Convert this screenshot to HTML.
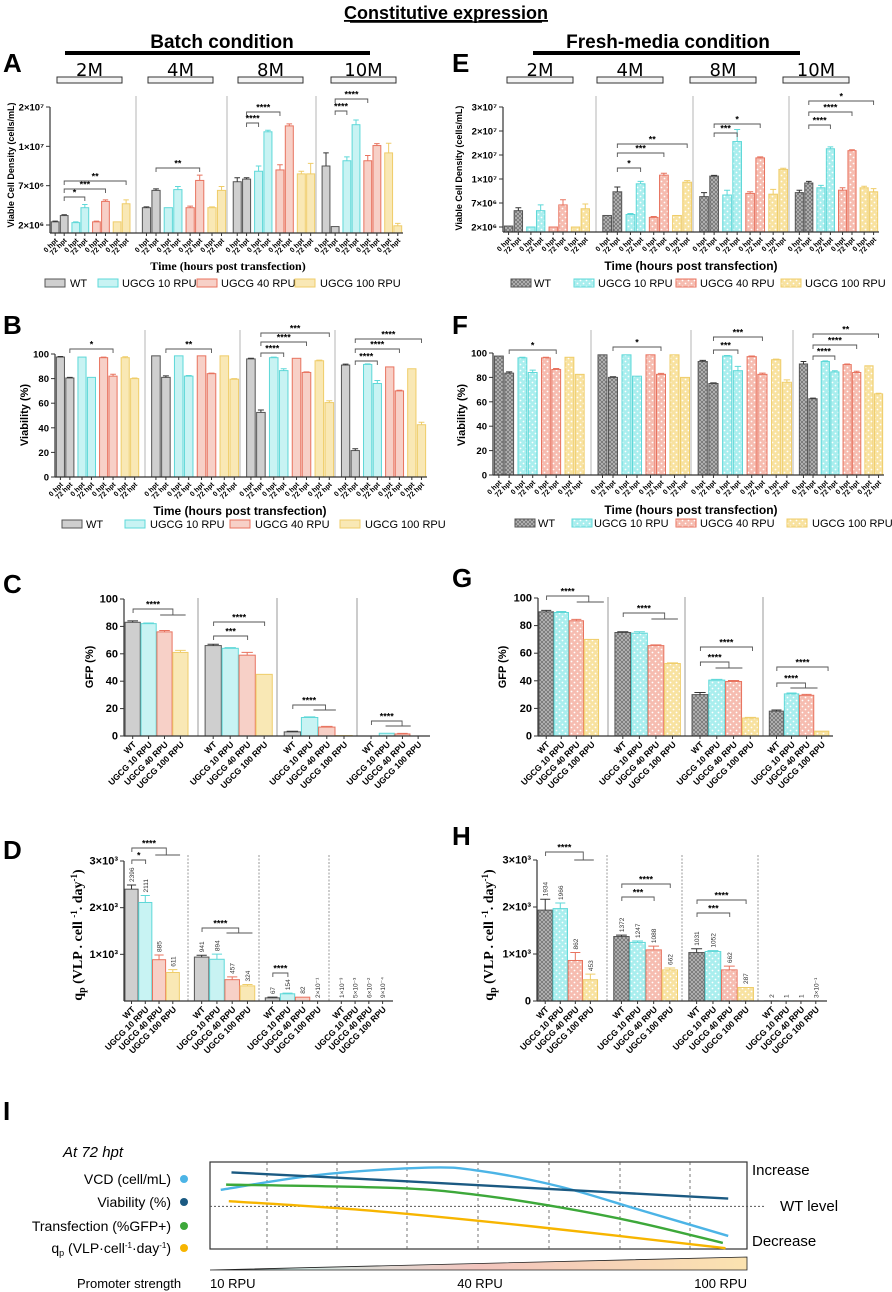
<!DOCTYPE html>
<html><head><meta charset="utf-8">
<style>
html,body{margin:0;padding:0;background:#fff}
svg{display:block;font-family:"Liberation Sans",sans-serif}
</style></head>
<body>
<svg id="fig" width="892" height="1292" viewBox="0 0 892 1292">
<defs>
<pattern id="p0" width="4" height="4" patternUnits="userSpaceOnUse"><rect width="4" height="4" fill="#b8b8b8"/><path d="M0,0L4,4M4,0L0,4" stroke="#6a6a6a" stroke-width="0.7"/></pattern>
<pattern id="p1" width="6" height="6" patternUnits="userSpaceOnUse"><rect width="6" height="6" fill="#a9eeee"/><circle cx="1.5" cy="1.5" r="0.9" fill="#fff"/><circle cx="4.5" cy="4.5" r="0.9" fill="#fff"/></pattern>
<pattern id="p2" width="6" height="6" patternUnits="userSpaceOnUse"><rect width="6" height="6" fill="#f6bcb0"/><circle cx="1.5" cy="1.5" r="0.9" fill="#fff"/><circle cx="4.5" cy="4.5" r="0.9" fill="#fff"/></pattern>
<pattern id="p3" width="6" height="6" patternUnits="userSpaceOnUse"><rect width="6" height="6" fill="#f8e2a0"/><circle cx="1.5" cy="1.5" r="0.9" fill="#fff"/><circle cx="4.5" cy="4.5" r="0.9" fill="#fff"/></pattern>
<linearGradient id="promGrad" x1="0" y1="0" x2="1" y2="0"><stop offset="0" stop-color="#000"/><stop offset="0.15" stop-color="#cfe9e4"/><stop offset="0.5" stop-color="#f2c4bd"/><stop offset="1" stop-color="#fbe3b0"/></linearGradient>
</defs>
</svg>
<script>
// ---------------- DATA ----------------
const groupNames=['2M','4M','8M','10M'];
const seriesNames=['WT','UGCG 10 RPU','UGCG 40 RPU','UGCG 100 RPU'];
const timeLabels=['0 hpt','72 hpt'];
// A: VCD batch (WT0,WT72,10-0,10-72,40-0,40-72,100-0,100-72)
const aVals=[[2.4e6,3.2e6,2.3e6,4.2e6,2.4e6,5.0e6,2.4e6,4.7e6],[4.2e6,6.4e6,4.2e6,6.5e6,4.2e6,7.4e6,4.2e6,6.4e6],[7.3e6,7.5e6,8.1e6,1.37e7,8.2e6,1.52e7,7.9e6,7.9e6],[8.5e6,1.8e6,8.9e6,1.55e7,8.9e6,1.02e7,9.5e6,1.9e6]];
const aErr=[[1e5,1e5,1e5,4e5,1e5,2e5,5e4,5e5],[1e5,2e5,5e4,4e5,2e5,4e5,1e5,5e5],[3e5,1e5,4e5,4e5,4e5,5e5,2e5,8e5],[1e6,5e4,3e5,1.2e6,4e5,5e5,1.3e6,3e5]];
const aTicks=[2e6,7e6,1e7,2e7];
const aTickLabels=['2×10⁶','7×10⁶','1×10⁷','2×10⁷'];
// E: VCD fresh media
const eVals=[[2.2e6,5.4e6,2.0e6,5.4e6,2.0e6,6.6e6,2.0e6,5.8e6],[4.4e6,8.4e6,4.6e6,9.4e6,4.0e6,1.16e7,4.4e6,9.6e6],[7.8e6,1.12e7,8.0e6,2.28e7,8.2e6,1.88e7,8.1e6,1.4e7],[8.3e6,9.5e6,8.9e6,2.13e7,8.6e6,2.09e7,8.9e6,8.4e6]];
const eErr=[[1e5,6e5,1e5,1.2e6,1e5,8e5,1e5,1e6],[1e5,6e5,2e5,3e5,2e5,8e5,1e5,2e5],[5e5,3e5,6e5,2.5e6,2e5,4e5,6e5,5e5],[3e5,2e5,3e5,4e5,3e5,2e5,2e5,4e5]];
const eTicks=[2e6,7e6,1e7,2e7,2.5e7,3e7];
const eTickLabels=['2×10⁶','7×10⁶','1×10⁷','2×10⁷','2×10⁷','3×10⁷'];
// B / F viability
const bVals=[[97.5,80.5,97.5,81,97,82,97,80],[98.5,81,98.5,82,98.5,84,98.5,79.5],[96,52.5,97,86.5,96.5,85,94.5,60.5],[91,21.5,91.5,76,89.5,70,88,42.5]];
const bErr=[[0.5,0.5,0.3,0.3,0.5,1.5,0.8,0.5],[0.3,1.2,0.3,0.5,0.3,0.5,0.3,0.5],[0.5,2,0.5,1.5,0.3,0.5,0.5,1.5],[0.8,1.5,0.5,2.5,0.3,0.5,0.3,2]];
const fVals=[[97.5,83.5,96,84,96,86.5,96.5,82.5],[98.5,80,98.5,81,98.5,82.5,98.5,80],[93,75,97.5,85.5,97,82.5,94.5,76],[91,62.5,93,84.5,90.5,84,89.5,66.5]];
const fErr=[[0.3,1,0.5,2,0.5,0.8,0.3,0.3],[0.3,0.5,0.3,0.3,0.3,0.8,0.3,0.3],[1,0.5,0.5,3.5,0.5,1,0.5,2],[2,0.5,0.5,1,0.5,1,0.3,0.5]];
const pctTicks=[0,20,40,60,80,100];
// C / G GFP
const cVals=[[83,82,76,61],[66,64,59,45],[3,13.5,6.5,0.3],[0,2,1.5,0]];
const cErr=[[1,0.5,1,1.5],[1,0.5,2,0.3],[0.5,0.5,0.5,0],[0,0.3,0.4,0]];
const gVals=[[90,89.5,83.5,70],[75,74.5,65.5,52.5],[30,40.5,39.5,13],[18,30.5,29.5,3.5]];
const gErr=[[1,0.7,1,0.3],[0.5,1,0.5,0.5],[1.5,0.5,0.7,0.5],[0.8,0.7,0.7,0.3]];
// D / H qp
const dVals=[[2396,2111,885,611],[941,894,457,324],[67,154,82,0.2],[0.001,0.005,0.06,0.0009]];
const dErr=[[90,150,100,60],[40,110,60,30],[15,15,10,0],[0,0,0,0]];
const dLabels=[['2396','2111','885','611'],['941','894','457','324'],['67','154','82','2×10⁻¹'],['1×10⁻³','5×10⁻³','6×10⁻²','9×10⁻⁴']];
const hVals=[[1934,1966,862,453],[1372,1247,1088,662],[1031,1052,662,287],[2,1,1,0.3]];
const hErr=[[230,120,170,120],[30,30,80,40],[80,20,80,10],[0,0,0,0]];
const hLabels=[['1934','1966','862','453'],['1372','1247','1088','662'],['1031','1052','662','287'],['2','1','1','3×10⁻¹']];
const qTicks=[0,1000,2000,3000];
const qTickLabels=['0','1×10³','2×10³','3×10³'];
// I schematic (x fraction along promoter strength, y fraction from top of box)
const iSeries=['VCD (cell/mL)','Viability (%)','Transfection (%GFP+)','qp'];
const iX=[[0.02,0.2,0.4,0.5,0.65,0.8,0.965],[0.04,0.3,0.6,0.965],[0.03,0.35,0.5,0.65,0.8,0.955],[0.035,0.3,0.6,0.96]];
const iY=[[0.32,0.15,0.065,0.1,0.28,0.55,0.85],[0.12,0.2,0.3,0.42],[0.26,0.3,0.38,0.52,0.7,0.93],[0.45,0.56,0.74,0.99]];

// ---------------- HELPERS ----------------
const NS='http://www.w3.org/2000/svg';
const svg=document.getElementById('fig');
function mk(tag,attrs,txt){const e=document.createElementNS(NS,tag);for(const k in attrs)e.setAttribute(k,attrs[k]);if(txt!==undefined)e.textContent=txt;svg.appendChild(e);return e;}
const STROKE=['#555555','#5ed8d8','#e8735f','#efcd6a'];
const FILL=['#cfcfcf','#c8f3f3','#f7d0c7','#f9e8b5'];
function piece(ticks,py0,step){return v=>{let i=0;while(i<ticks.length-2&&v>ticks[i+1])i++;return py0-(i+(v-ticks[i])/(ticks[i+1]-ticks[i]))*step;};}
function lin(v0,p0,v1,p1){return v=>p0+(v-v0)*(p1-p0)/(v1-v0);}
function bar8(b,g,k){const W=b[g+1]-b[g];const off=g===0?0.015:0.07;const p=Math.floor(k/2),j=k%2;return {x:b[g]+W*(off+0.24*p+0.105*j),w:W*0.09};}
function bar4(b,g,i){const W=b[g+1]-b[g];const off=g===0?0.015:0.09;return {x:b[g]+W*(off+0.215*i),w:W*0.205};}

function letter(t,x,y){const e=mk('text',{x:x,y:y,'font-size':26,'font-weight':'bold'},t);

}

function yAxis(x,top,base,ticks,labels,yf,fs){
 const l=mk('line',{x1:x,y1:top,x2:x,y2:base,stroke:'#333','stroke-width':1.2});
 
 
 ticks.forEach((t,i)=>{const y=yf(t);
  mk('line',{x1:x-4,y1:y,x2:x,y2:y,stroke:'#333','stroke-width':1});
  const tx=mk('text',{x:x-6,y:y+3.5,'font-size':fs||10,'font-weight':'bold','text-anchor':'end'},labels[i]);
  
  });
}
function bracket(x1,x2,y,label,sub){
 const d=sub?`M${x1},${y+4}V${y}H${x2}V${sub[2]}`:`M${x1},${y+4}V${y}H${x2}V${y+4}`;
 const p=mk('path',{d:d,fill:'none',stroke:'#555','stroke-width':0.9});
 
 
 if(sub){mk('line',{x1:sub[0],y1:sub[2],x2:sub[1],y2:sub[2],stroke:'#555','stroke-width':0.9});}
 const t=mk('text',{x:(x1+x2)/2,y:y-1.5,'font-size':9,'font-weight':'bold','text-anchor':'middle'},label);
 
 
}
function legend(y,boxes,texts,pat){
 seriesNames.forEach((s,i)=>{
  const r=mk('rect',{x:boxes[i],y:y-4,width:20,height:8,fill:pat?`url(#p${i})`:FILL[i],stroke:STROKE[i],'stroke-width':1});
  
  
  const t=mk('text',{x:texts[i],y:y+4,'font-size':11},s);
  
  
 });
}
function drawBar(x,w,yTop,base,i,pat,name){
 const r=mk('rect',{x:x,y:Math.min(yTop,base),width:w,height:Math.abs(base-yTop),fill:pat?`url(#p${i})`:FILL[i],stroke:STROKE[i],'stroke-width':1});
 
 
}
function errBar(cx,w,yv,ye,i){
 if(Math.abs(yv-ye)<0.5)return;
 mk('path',{d:`M${cx},${yv}V${ye}M${cx-w*0.35},${ye}H${cx+w*0.35}`,stroke:STROKE[i]==='#555555'?'#333':STROKE[i],'stroke-width':1,fill:'none'});
}

function timePanel(o){
 const b=o.bands, yf=o.yf;
 for(let g=1;g<4;g++){const l=mk('line',{x1:b[g],y1:o.top,x2:b[g],y2:o.base,stroke:'#b5b5b5','stroke-width':1});
  
  }
 o.vals.forEach((gv,g)=>gv.forEach((v,k)=>{
  const bb=bar8(b,g,k);const s=Math.floor(k/2);
  drawBar(bb.x,bb.w,yf(v),o.base,s,o.pat,'bar-'+groupNames[g]+'-'+s+'-'+timeLabels[k%2].replace(' ',''));
  errBar(bb.x+bb.w/2,bb.w,yf(v),yf(v+o.err[g][k]),s);
  const cx=bb.x+bb.w/2;
  mk('line',{x1:cx,y1:o.base,x2:cx,y2:o.base+3,stroke:'#333'});
  const t=mk('text',{x:cx+3,y:o.base+8,'font-size':7,'font-weight':'bold','text-anchor':'end',transform:`rotate(-45 ${cx+3} ${o.base+8})`},timeLabels[k%2]);
  
  
 }));
 const ax=mk('line',{x1:b[0],y1:o.base,x2:b[4],y2:o.base,stroke:'#333','stroke-width':1.2});
 
 
 yAxis(b[0],yf(o.ticks[o.ticks.length-1]),o.base,o.ticks,o.tickLabels,yf,9.5);
 o.br.forEach(q=>{const x1=bar8(b,q[0],q[1]),x2=bar8(b,q[0],q[2]);bracket(x1.x+x1.w/2,x2.x+x2.w/2,q[3],q[4]);});
 const yt=mk('text',{x:o.ytx,y:o.yty,'font-size':o.ytfs||10,'font-weight':'bold','text-anchor':'middle',transform:`rotate(-90 ${o.ytx} ${o.yty})`},o.ytitle);
 
 
 const xt=mk('text',{x:o.xtx,y:o.xty,'font-size':12,'font-weight':'bold','text-anchor':'middle','font-family':o.serif?'Liberation Serif, serif':'Liberation Sans, sans-serif'},'Time (hours post transfection)');
 
 
 legend(o.legY,o.legB,o.legT,o.pat);
}

function catPanel(o){
 const b=o.bands, yf=o.yf;
 for(let g=1;g<4;g++){const l=mk('line',{x1:b[g],y1:o.top,x2:b[g],y2:o.base,stroke:'#9a9a9a','stroke-width':1,'stroke-dasharray':o.dash?'2,1.5':'none'});
  
  }
 o.vals.forEach((gv,g)=>gv.forEach((v,i)=>{
  const bb=bar4(b,g,i);const cx=bb.x+bb.w/2;
  if(v>0)drawBar(bb.x,bb.w,yf(v),o.base,i,o.pat,'bar-'+groupNames[g]+'-'+seriesNames[i].toLowerCase().replace(/ /g,'-'));
  errBar(cx,bb.w,yf(v),yf(v+o.err[g][i]),i);
  mk('line',{x1:cx,y1:o.base,x2:cx,y2:o.base+3,stroke:'#333'});
  const t=mk('text',{x:cx+4,y:o.base+9,'font-size':8.5,'font-weight':'bold','text-anchor':'end',transform:`rotate(-45 ${cx+4} ${o.base+9})`},seriesNames[i]);
  
  
  if(o.lab){const ly=Math.min(yf(v+o.err[g][i]),o.base)-3;
   const vl=mk('text',{x:cx+2.5,y:ly,'font-size':6.5,'text-anchor':'start',fill:'#333',transform:`rotate(-90 ${cx+2.5} ${ly})`},o.lab[g][i]);
   
   }
 }));
 const ax=mk('line',{x1:b[0],y1:o.base,x2:b[4],y2:o.base,stroke:'#333','stroke-width':1.2});
 
 
 yAxis(b[0],yf(o.ticks[o.ticks.length-1]),o.base,o.ticks,o.tickLabels,yf,11);
 o.br.forEach(q=>{const c=i=>{const bb=bar4(b,q[0],0);return bb.x+bb.w*(i+0.5)*1.05;};
  bracket(c(q[1]),c(q[2]),q[3],q[4],q[5]?[c(q[5][0]),c(q[5][1]),q[5][2]]:null);});
 if(o.serif){
  const yt=mk('text',{x:o.ytx,y:o.yty,'font-size':14,'font-weight':'bold','text-anchor':'middle','font-family':'Liberation Serif, serif',transform:`rotate(-90 ${o.ytx} ${o.yty})`});
  yt.innerHTML='q<tspan font-size="10" dy="3">p</tspan><tspan dy="-3"> (VLP . cell </tspan><tspan font-size="9" dy="-5">-1</tspan><tspan dy="5">. day</tspan><tspan font-size="9" dy="-5">-1</tspan><tspan dy="5">)</tspan>';
  
  
 } else {
  const yt=mk('text',{x:o.ytx,y:o.yty,'font-size':11,'font-weight':'bold','text-anchor':'middle',transform:`rotate(-90 ${o.ytx} ${o.yty})`},o.ytitle);
  
  
 }
}

// ---------------- HEADERS ----------------
let h=mk('text',{x:446,y:19,'font-size':18,'font-weight':'bold','text-anchor':'middle','text-decoration':'underline'},'Constitutive expression');


mk('line',{x1:350,y1:22,x2:542,y2:22,stroke:'#000','stroke-width':1.5});
[['Batch condition',222,65,370],['Fresh-media condition',668,533,800]].forEach(c=>{
 const t=mk('text',{x:c[1],y:48,'font-size':19,'font-weight':'bold','text-anchor':'middle'},c[0]);
 
 
 mk('rect',{x:c[2],y:51,width:c[3]-c[2],height:4,fill:'#000'});
});
const boxA=[57,148,238,331], boxE=[507,597,690,783];
[boxA,boxE].forEach((bx,side)=>bx.forEach((x,i)=>{
 const w=side?66:65;
 const r=mk('rect',{x:x,y:77,width:w,height:6,fill:'#f4f4f4',stroke:'#333','stroke-width':1});
 
 
 const t=mk('text',{x:x+w/2,y:76,'font-size':18,'text-anchor':'middle','font-family':'DejaVu Sans, sans-serif','font-weight':'normal'},groupNames[i]);
 
 
}));
letter('A',3,72);letter('E',452,72);letter('B',3,334);letter('F',452,334);
letter('C',3,593);letter('G',452,587);letter('D',3,859);letter('H',452,845);

// ---------------- PANELS ----------------
timePanel({bands:[50,136,227,316,403],yf:piece(aTicks,225,39.33),top:96,base:233,vals:aVals,err:aErr,pat:false,ticks:aTicks,tickLabels:aTickLabels,
 br:[[0,1,3,197,'*'],[0,1,5,189,'***'],[0,1,7,181,'**'],[1,1,5,168,'**'],[2,1,2,123,'****'],[2,1,4,112,'****'],[3,1,2,111,'****'],[3,1,4,99,'****']],
 ytitle:'Viable Cell Density (cells/mL)',ytx:14,yty:165,ytfs:9,xtx:228,xty:270,serif:true,legY:283,legB:[45,98,197,295],legT:[70,122,221,320]});
timePanel({bands:[503,596,693,789,879],yf:piece(eTicks,227,24),top:96,base:232,vals:eVals,err:eErr,pat:true,ticks:eTicks,tickLabels:eTickLabels,
 br:[[1,1,3,168,'*'],[1,1,5,153,'***'],[1,1,7,144,'**'],[2,1,3,133,'***'],[2,1,5,124,'*'],[3,1,3,125,'****'],[3,1,5,112,'****'],[3,1,7,101,'*']],
 ytitle:'Viable Cell Density (cells/mL)',ytx:462,yty:168,ytfs:9,xtx:691,xty:270,serif:false,legY:283,legB:[511,574,676,781],legT:[534,598,700,805]});
timePanel({bands:[55,145,240,335,427],yf:lin(0,477,100,354),top:330,base:477,vals:bVals,err:bErr,pat:false,ticks:pctTicks,tickLabels:pctTicks.map(String),
 br:[[0,1,5,349,'*'],[1,1,5,349,'**'],[2,1,3,353,'****'],[2,1,5,342,'****'],[2,1,7,333,'***'],[3,1,3,361,'****'],[3,1,5,349,'****'],[3,1,7,339,'****']],
 ytitle:'Viability (%)',ytx:28,yty:415,ytfs:11,xtx:240,xty:515,serif:false,legY:524,legB:[62,125,230,340],legT:[86,150,255,365]});
timePanel({bands:[493,591,691,793,884],yf:lin(0,475,100,353),top:330,base:475,vals:fVals,err:fErr,pat:true,ticks:pctTicks,tickLabels:pctTicks.map(String),
 br:[[0,1,5,350,'*'],[1,1,5,347,'*'],[2,1,3,350,'***'],[2,1,5,337,'***'],[3,1,3,356,'****'],[3,1,5,345,'****'],[3,1,7,334,'**']],
 ytitle:'Viability (%)',ytx:465,yty:415,ytfs:11,xtx:691,xty:514,serif:false,legY:523,legB:[515,572,676,787],legT:[538,594,700,812]});

catPanel({bands:[124,198,277,357,430],yf:lin(0,736,100,599),top:598,base:736,vals:cVals,err:cErr,pat:false,ticks:pctTicks,tickLabels:pctTicks.map(String),
 br:[[0,0,2.5,609,'****',[1.7,3.3,615]],[1,0,3,622,'****'],[1,0,2,636,'***'],[2,0,1.9,705,'****',[1.2,2.5,710]],[3,0,1.95,721,'****',[0.9,2.5,726]]],
 ytitle:'GFP (%)',ytx:93,yty:667});
catPanel({bands:[538,608,685,763,833],yf:lin(0,736,100,598),top:597,base:736,vals:gVals,err:gErr,pat:true,ticks:pctTicks,tickLabels:pctTicks.map(String),
 br:[[0,0,2.8,596,'****',[2,3.8,602]],[1,0,2.5,613,'****',[1.7,3.3,619]],[2,0,3.1,647,'****'],[2,0,1.7,662,'****',[0.9,2.5,668]],[3,0,3.4,667,'****'],[3,0,1.9,683,'****',[0.9,2.7,688]]],
 ytitle:'GFP (%)',ytx:506,yty:667});
catPanel({bands:[124,188,259,329,393],yf:lin(0,1001,3000,861),top:855,base:1001,vals:dVals,err:dErr,pat:false,dash:true,lab:dLabels,ticks:qTicks.slice(1),tickLabels:qTickLabels.slice(1),
 br:[[0,0,2.5,848,'****',[1.7,3.5,855]],[0,0,1,860,'*'],[1,0,2.4,928,'****',[1.6,3.3,933]],[2,0,1,973,'****']],
 serif:true,ytx:82,yty:935});
catPanel({bands:[537,607,682,758,827],yf:lin(0,1001,3000,860),top:855,base:1001,vals:hVals,err:hErr,pat:true,dash:true,lab:hLabels,ticks:qTicks,tickLabels:qTickLabels,
 br:[[0,0,2.5,852,'****',[1.9,3.2,860]],[1,0,3,884,'****'],[1,0,2,897,'***'],[2,0,3,900,'****'],[2,0,2,913,'***']],
 serif:true,ytx:493,yty:935});

// ---------------- PANEL I ----------------
letter('I',3,1120);
const IB={x0:210,x1:747,y0:1162,y1:1249};
let at=mk('text',{x:63,y:1157,'font-size':15,'font-style':'italic'},'At 72 hpt');


const ibox=mk('rect',{x:IB.x0,y:IB.y0,width:IB.x1-IB.x0,height:IB.y1-IB.y0,fill:'none',stroke:'#333','stroke-width':1.2});


[267,337,407,478,549,620,690].forEach(x=>mk('line',{x1:x,y1:IB.y0,x2:x,y2:IB.y1,stroke:'#555','stroke-width':0.8,'stroke-dasharray':'3,3'}));
const wtY=IB.y0+0.51*(IB.y1-IB.y0);
const wl=mk('line',{x1:IB.x0,y1:wtY,x2:766,y2:wtY,stroke:'#555','stroke-width':0.9,'stroke-dasharray':'2,2'});


const IC=['#4cb4e6','#1b5a82','#3da83a','#f7b500'];
const ix=f=>IB.x0+f*(IB.x1-IB.x0), iy=f=>IB.y0+f*(IB.y1-IB.y0);
iSeries.forEach((s,k)=>{
 const xs=iX[k].map(ix), ys=iY[k].map(iy);
 let d=`M${xs[0]},${ys[0]}`;
 for(let i=0;i<xs.length-1;i++){const x0=xs[Math.max(i-1,0)],y0=ys[Math.max(i-1,0)],x3=xs[Math.min(i+2,xs.length-1)],y3=ys[Math.min(i+2,xs.length-1)];
  d+=` C${xs[i]+(xs[i+1]-x0)/6},${ys[i]+(ys[i+1]-y0)/6} ${xs[i+1]-(x3-xs[i])/6},${ys[i+1]-(y3-ys[i])/6} ${xs[i+1]},${ys[i+1]}`;}
 const p=mk('path',{d:d,fill:'none',stroke:IC[k],'stroke-width':2.4});
 
 
});
const legRows=[1179,1202,1226,1248];
iSeries.forEach((s,k)=>{
 const t=mk('text',{x:171,y:legRows[k]+5,'font-size':14,'text-anchor':'end'});
 if(k===3){t.innerHTML='q<tspan font-size="9" dy="3">p</tspan><tspan dy="-3"> (VLP·cell</tspan><tspan font-size="8" dy="-5">-1</tspan><tspan dy="5">·day</tspan><tspan font-size="8" dy="-5">-1</tspan><tspan dy="5">)</tspan>';}
 else t.textContent=s;
 
 
 const c=mk('circle',{cx:184,cy:legRows[k],r:4,fill:IC[k]});
 
 
});
[['Increase',752,1175],['WT level',780,1211],['Decrease',752,1246]].forEach(a=>{
 const t=mk('text',{x:a[1],y:a[2],'font-size':15},a[0]);
 
 
});
const tri=mk('polygon',{points:`210,1270 747,1257 747,1270`,fill:'url(#promGrad)',stroke:'#222','stroke-width':0.8});


[['Promoter strength',77,1288,'start',13],['10 RPU',210,1288,'start',13],['40 RPU',480,1288,'middle',13],['100 RPU',747,1288,'end',13]].forEach(a=>{
 const t=mk('text',{x:a[1],y:a[2],'font-size':a[4],'text-anchor':a[3]},a[0]);
 
 
});
</script>
</body></html>
